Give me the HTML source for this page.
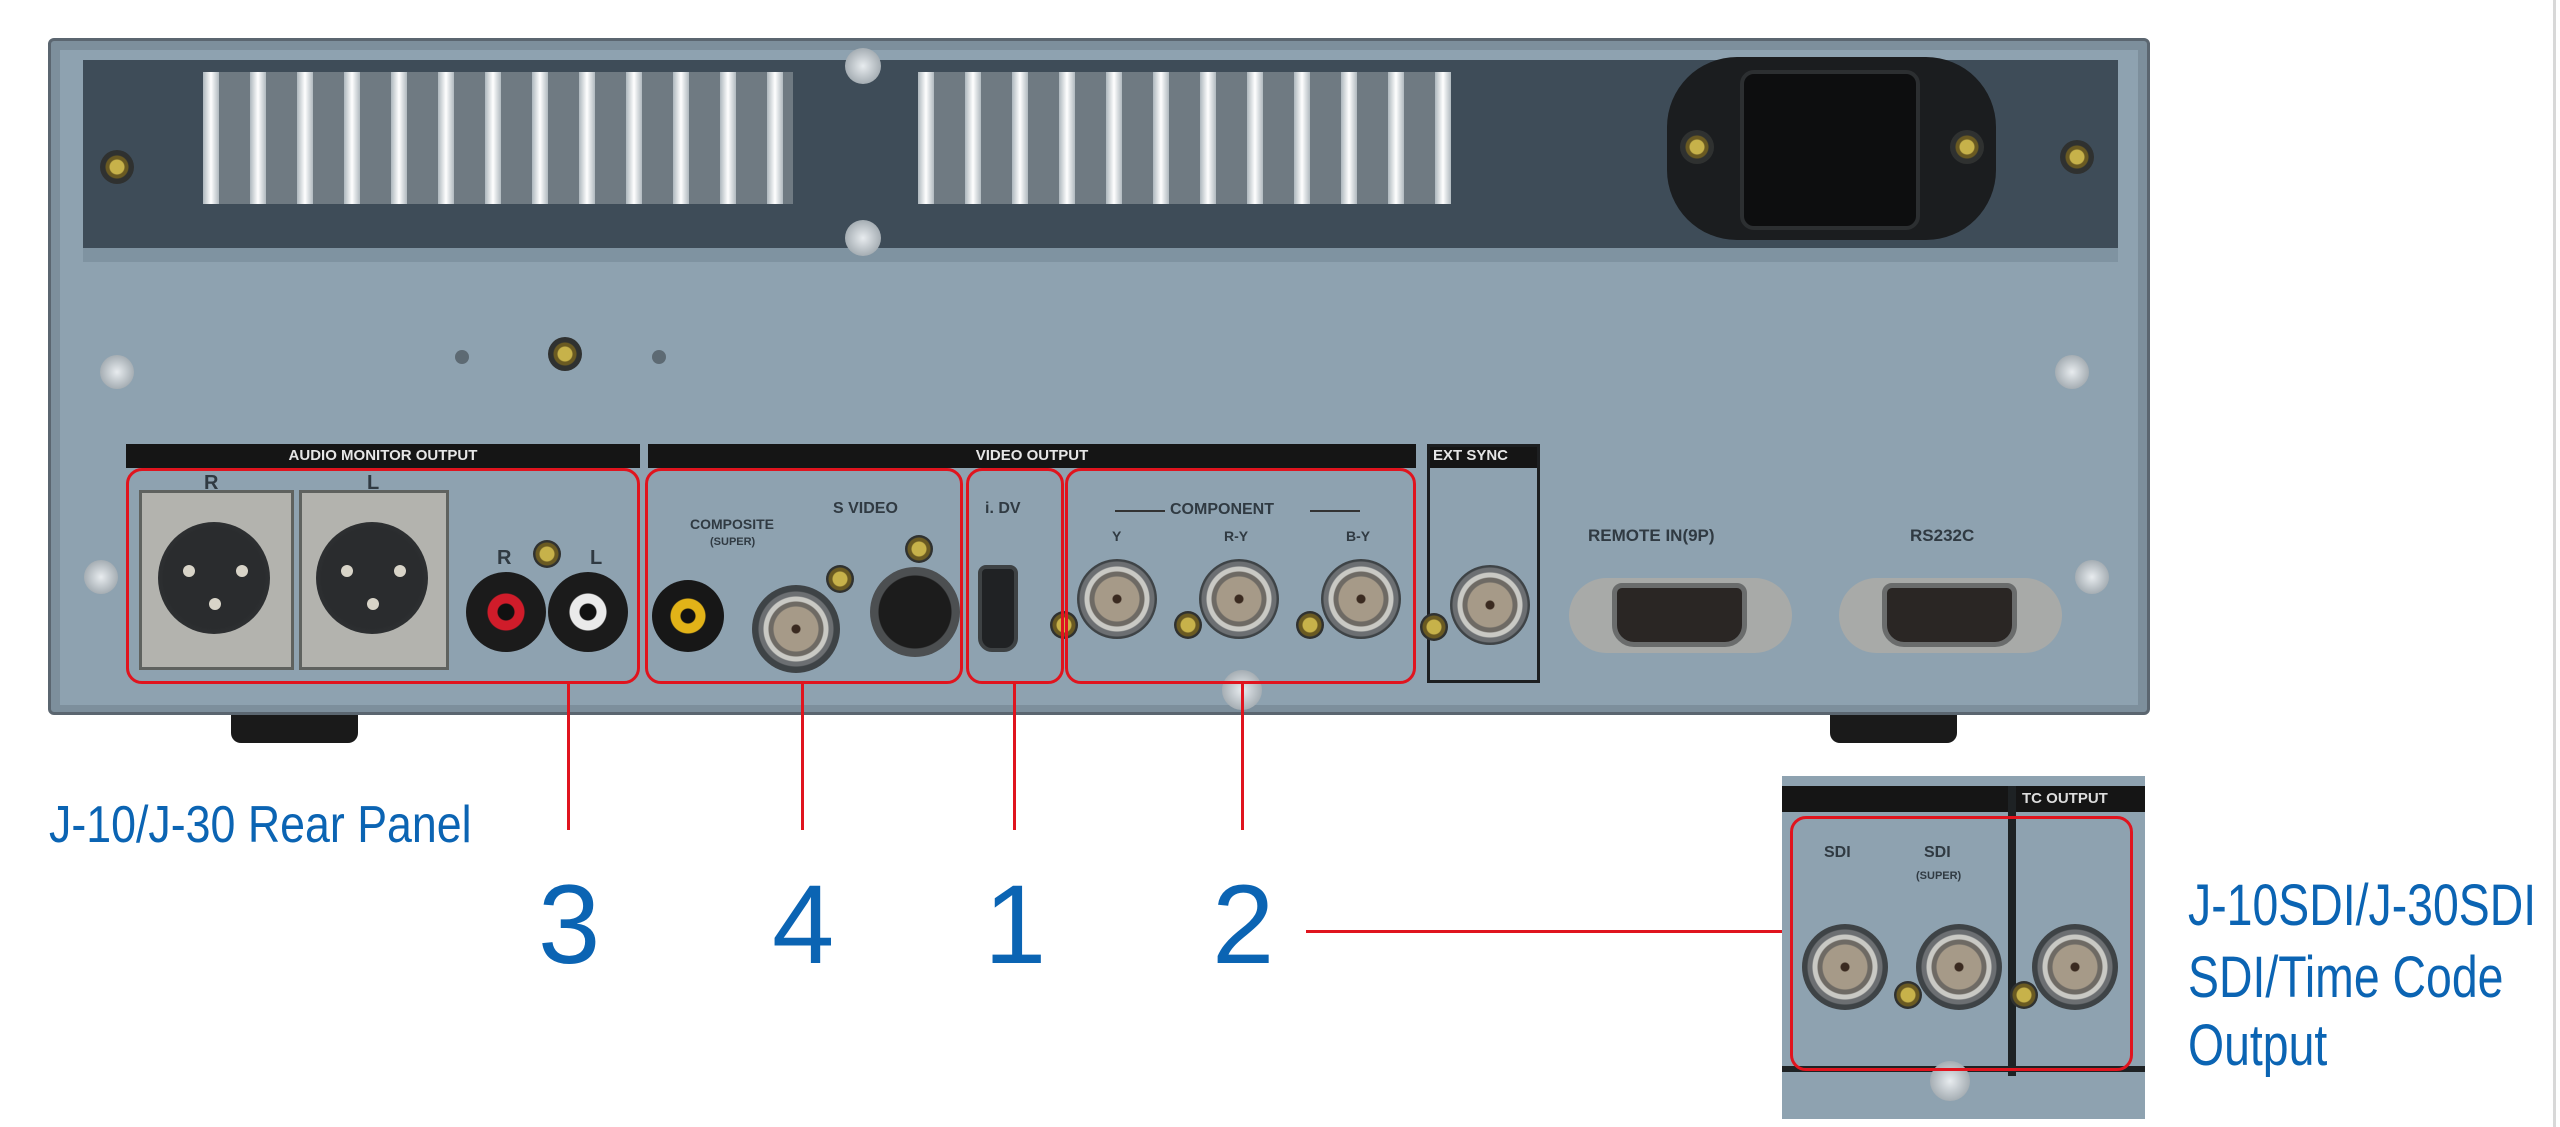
<!DOCTYPE html>
<html><head><meta charset="utf-8"><style>
*{margin:0;padding:0;box-sizing:border-box}
body{width:2560px;height:1127px;background:#fff;position:relative;overflow:hidden;font-family:"Liberation Sans",sans-serif}
.a{position:absolute}
.bnc{position:absolute;width:80px;height:80px;border-radius:50%;background:radial-gradient(circle,#3a2a20 0 4px,#a69a88 5px 22px,#6e6a64 23px 27px,#c9c9c4 28px 32px,#6c6f72 33px 37px,#3e4346 38px);}
.scr{position:absolute;width:28px;height:28px;border-radius:50%;background:radial-gradient(circle,#c7b24a 0 7px,#6a5a22 8px 11px,#2f3130 12px)}
.redbox{position:absolute;border:3px solid #e0141e;border-radius:16px}
.bar{position:absolute;background:#151515;color:#e6e6e6;font-size:15px;font-weight:bold;text-align:center;line-height:24px;height:24px}
.lbl{position:absolute;color:#303a42;font-size:15px;font-weight:bold;white-space:nowrap}
.blue{position:absolute;color:#0b64b3;white-space:nowrap}
.rl{position:absolute;background:#e0141e}
.pin{position:absolute;width:12px;height:12px;border-radius:50%;background:#d8d4c8}
</style></head><body>

<div class="a" style="left:48px;top:38px;width:2102px;height:677px;background:#7d8f9c;border:3px solid #5b6670;border-radius:6px"></div>
<div class="a" style="left:60px;top:50px;width:2078px;height:655px;background:#8ea2b0"></div>
<div class="a" style="left:83px;top:60px;width:2035px;height:188px;background:#3e4c58"></div>
<div class="a" style="left:83px;top:248px;width:2035px;height:14px;background:#7f93a1"></div>
<div class="a" style="left:203px;top:72px;width:590px;height:132px;background:#6f7a82"></div>
<div class="a" style="left:918px;top:72px;width:532px;height:132px;background:#6f7a82"></div>
<div id="fins"></div>
<!-- power inlet -->
<div class="a" style="left:1667px;top:57px;width:329px;height:183px;background:#1b1d1f;border-radius:70px"></div>
<div class="a" style="left:1740px;top:70px;width:180px;height:160px;background:#0d0e0f;border:4px solid #2c2f31;border-radius:14px"></div>
<div class="scr" style="left:1680px;top:130px;width:34px;height:34px"></div>
<div class="scr" style="left:1950px;top:130px;width:34px;height:34px"></div>
<div class="scr" style="left:2060px;top:140px;width:34px;height:34px"></div>
<div class="scr" style="left:100px;top:150px;width:34px;height:34px"></div>
<div class="a" style="left:845px;top:48px;width:36px;height:36px;border-radius:50%;background:radial-gradient(circle,#e8ecef,#8a949b)"></div>
<div class="a" style="left:845px;top:220px;width:36px;height:36px;border-radius:50%;background:radial-gradient(circle,#e8ecef,#8a949b)"></div>
<div class="a" style="left:100px;top:355px;width:34px;height:34px;border-radius:50%;background:radial-gradient(circle,#e8ecef,#8a949b)"></div>
<div class="a" style="left:2055px;top:355px;width:34px;height:34px;border-radius:50%;background:radial-gradient(circle,#e8ecef,#8a949b)"></div>
<div class="a" style="left:84px;top:560px;width:34px;height:34px;border-radius:50%;background:radial-gradient(circle,#e8ecef,#8a949b)"></div>
<div class="a" style="left:2075px;top:560px;width:34px;height:34px;border-radius:50%;background:radial-gradient(circle,#e8ecef,#8a949b)"></div>
<div class="a" style="left:455px;top:350px;width:14px;height:14px;border-radius:50%;background:#5d6a73"></div>
<div class="a" style="left:652px;top:350px;width:14px;height:14px;border-radius:50%;background:#5d6a73"></div>
<div class="scr" style="left:548px;top:337px;width:34px;height:34px"></div>
<div class="a" style="left:231px;top:715px;width:127px;height:28px;background:#1a1a1a;border-radius:0 0 10px 10px"></div>
<div class="a" style="left:1830px;top:715px;width:127px;height:28px;background:#1a1a1a;border-radius:0 0 10px 10px"></div>

<div class="bar" style="left:126px;top:444px;width:514px">AUDIO MONITOR OUTPUT</div>
<div class="bar" style="left:648px;top:444px;width:768px">VIDEO OUTPUT</div>
<div class="bar" style="left:1427px;top:444px;width:113px;text-align:left;padding-left:6px">EXT SYNC</div>
<div class="a" style="left:1427px;top:444px;width:113px;height:239px;border:3px solid #1d1f21"></div>

<!-- audio -->
<div class="lbl" style="left:204px;top:472px;font-size:20px">R</div>
<div class="lbl" style="left:367px;top:472px;font-size:20px">L</div>
<div class="a" style="left:139px;top:490px;width:155px;height:180px;background:#b3b3ae;border:3px solid #5f625f"></div>
<div class="a" style="left:299px;top:490px;width:150px;height:180px;background:#b3b3ae;border:3px solid #5f625f"></div>
<div class="a" style="left:158px;top:522px;width:112px;height:112px;border-radius:50%;background:radial-gradient(circle,#2a2c2e 0 50px,#3c3f41)"></div>
<div class="a" style="left:316px;top:522px;width:112px;height:112px;border-radius:50%;background:radial-gradient(circle,#2a2c2e 0 50px,#3c3f41)"></div>
<div class="pin" style="left:183px;top:565px"></div><div class="pin" style="left:236px;top:565px"></div><div class="pin" style="left:209px;top:598px"></div>
<div class="pin" style="left:341px;top:565px"></div><div class="pin" style="left:394px;top:565px"></div><div class="pin" style="left:367px;top:598px"></div>
<div class="a" style="left:466px;top:572px;width:80px;height:80px;border-radius:50%;background:radial-gradient(circle,#111 0 8px,#d01c2a 9px 18px,#1b1b1b 19px)"></div>
<div class="a" style="left:548px;top:572px;width:80px;height:80px;border-radius:50%;background:radial-gradient(circle,#111 0 8px,#eaeaea 9px 18px,#1b1b1b 19px)"></div>
<div class="lbl" style="left:497px;top:547px;font-size:20px">R</div>
<div class="lbl" style="left:590px;top:547px;font-size:20px">L</div>
<div class="scr" style="left:533px;top:540px"></div>

<!-- video -->
<div class="lbl" style="left:690px;top:516px;font-size:14px">COMPOSITE</div>
<div class="lbl" style="left:710px;top:536px;font-size:11px">(SUPER)</div>
<div class="lbl" style="left:833px;top:500px;font-size:16px">S VIDEO</div>
<div class="lbl" style="left:985px;top:500px;font-size:16px">i. DV</div>
<div class="a" style="left:652px;top:580px;width:72px;height:72px;border-radius:50%;background:radial-gradient(circle,#111 0 7px,#e2b318 8px 17px,#171717 18px)"></div>
<div class="bnc" style="left:752px;top:585px;width:88px;height:88px"></div>
<div class="scr" style="left:826px;top:565px"></div>
<div class="a" style="left:870px;top:567px;width:90px;height:90px;border-radius:50%;background:radial-gradient(circle,#1c1c1c 0 36px,#4c4f51 37px)"></div>
<div class="scr" style="left:905px;top:535px"></div>
<div class="a" style="left:978px;top:565px;width:40px;height:87px;background:#202224;border:4px solid #3e4244;border-radius:8px 8px 14px 14px"></div>
<div class="lbl" style="left:1170px;top:501px;font-size:16px">COMPONENT</div>
<div class="a" style="left:1115px;top:510px;width:50px;border-top:2px solid #333"></div>
<div class="a" style="left:1310px;top:510px;width:50px;border-top:2px solid #333"></div>
<div class="lbl" style="left:1112px;top:528px;font-size:14px">Y</div>
<div class="lbl" style="left:1224px;top:528px;font-size:14px">R-Y</div>
<div class="lbl" style="left:1346px;top:528px;font-size:14px">B-Y</div>
<div class="bnc" style="left:1077px;top:559px"></div>
<div class="bnc" style="left:1199px;top:559px"></div>
<div class="bnc" style="left:1321px;top:559px"></div>
<div class="scr" style="left:1050px;top:611px"></div>
<div class="scr" style="left:1174px;top:611px"></div>
<div class="scr" style="left:1296px;top:611px"></div>
<div class="bnc" style="left:1450px;top:565px"></div>
<div class="scr" style="left:1420px;top:613px"></div>
<div class="a" style="left:1222px;top:670px;width:40px;height:40px;border-radius:50%;background:radial-gradient(circle,#e8ecef,#8a949b)"></div>
<div class="lbl" style="left:1588px;top:526px;font-size:17px">REMOTE IN(9P)</div>
<div class="lbl" style="left:1910px;top:526px;font-size:17px">RS232C</div>
<div class="a" style="left:1569px;top:578px;width:223px;height:75px;background:#a8aaa8;border-radius:38px"></div>
<div class="a" style="left:1612px;top:583px;width:135px;height:64px;background:#2a2624;border:5px solid #6a6c6c;border-radius:10px 10px 22px 22px"></div>
<div class="a" style="left:1839px;top:578px;width:223px;height:75px;background:#a8aaa8;border-radius:38px"></div>
<div class="a" style="left:1882px;top:583px;width:135px;height:64px;background:#2a2624;border:5px solid #6a6c6c;border-radius:10px 10px 22px 22px"></div>

<div class="redbox" style="left:126px;top:468px;width:514px;height:216px"></div>
<div class="redbox" style="left:645px;top:468px;width:318px;height:216px"></div>
<div class="redbox" style="left:966px;top:468px;width:98px;height:216px"></div>
<div class="redbox" style="left:1065px;top:468px;width:351px;height:216px"></div>
<div class="rl" style="left:567px;top:684px;width:3px;height:146px"></div>
<div class="rl" style="left:801px;top:684px;width:3px;height:146px"></div>
<div class="rl" style="left:1013px;top:684px;width:3px;height:146px"></div>
<div class="rl" style="left:1241px;top:684px;width:3px;height:146px"></div>
<div class="rl" style="left:1306px;top:930px;width:484px;height:3px"></div>

<div class="blue" style="left:49px;top:795px;font-size:52px;transform:scaleX(.86);transform-origin:left">J-10/J-30 Rear Panel</div>
<div class="blue" style="left:538px;top:860px;font-size:112px">3</div>
<div class="blue" style="left:772px;top:860px;font-size:112px">4</div>
<div class="blue" style="left:984px;top:860px;font-size:112px">1</div>
<div class="blue" style="left:1212px;top:860px;font-size:112px">2</div>
<div class="blue" style="left:2188px;top:872px;font-size:58px;transform:scaleX(.8);transform-origin:left">J-10SDI/J-30SDI</div>
<div class="blue" style="left:2188px;top:944px;font-size:58px;transform:scaleX(.8);transform-origin:left">SDI/Time Code</div>
<div class="blue" style="left:2188px;top:1012px;font-size:58px;transform:scaleX(.8);transform-origin:left">Output</div>
<div class="a" style="left:2553px;top:0;width:3px;height:1127px;background:#d8d8d8"></div>

<div class="a" style="left:1782px;top:776px;width:363px;height:343px;background:#8ea2b0;overflow:hidden">
  <div class="a" style="left:0;top:10px;width:228px;height:26px;background:#151515"></div>
  <div class="a" style="left:232px;top:10px;width:131px;height:26px;background:#151515;color:#ddd;font-size:15px;font-weight:bold;line-height:26px;padding-left:8px">TC OUTPUT</div>
  <div class="a" style="left:226px;top:10px;width:8px;height:290px;background:#1e2224"></div>
  <div class="a" style="left:0;top:290px;width:363px;height:6px;background:#1e2224"></div>
  <div class="lbl" style="left:42px;top:68px;font-size:16px">SDI</div>
  <div class="lbl" style="left:142px;top:68px;font-size:16px">SDI</div>
  <div class="lbl" style="left:134px;top:94px;font-size:11px">(SUPER)</div>
  <div class="bnc" style="left:20px;top:148px;width:86px;height:86px"></div>
  <div class="bnc" style="left:134px;top:148px;width:86px;height:86px"></div>
  <div class="bnc" style="left:250px;top:148px;width:86px;height:86px"></div>
  <div class="scr" style="left:112px;top:205px"></div>
  <div class="scr" style="left:228px;top:205px"></div>
  <div class="a" style="left:148px;top:285px;width:40px;height:40px;border-radius:50%;background:radial-gradient(circle,#e8ecef,#8a949b)"></div>
  <div class="redbox" style="left:8px;top:40px;width:343px;height:255px"></div>
</div>

<script>
var f=document.getElementById('fins'),h='';
function row(x0,x1){for(var x=x0;x<x1;x+=47){h+='<div class="a" style="left:'+x+'px;top:72px;width:16px;height:132px;background:linear-gradient(90deg,#aeb8be,#fff 50%,#b0b9bf)"></div>';}}
row(203,793);row(918,1450);
f.innerHTML=h;
</script>
</body></html>
